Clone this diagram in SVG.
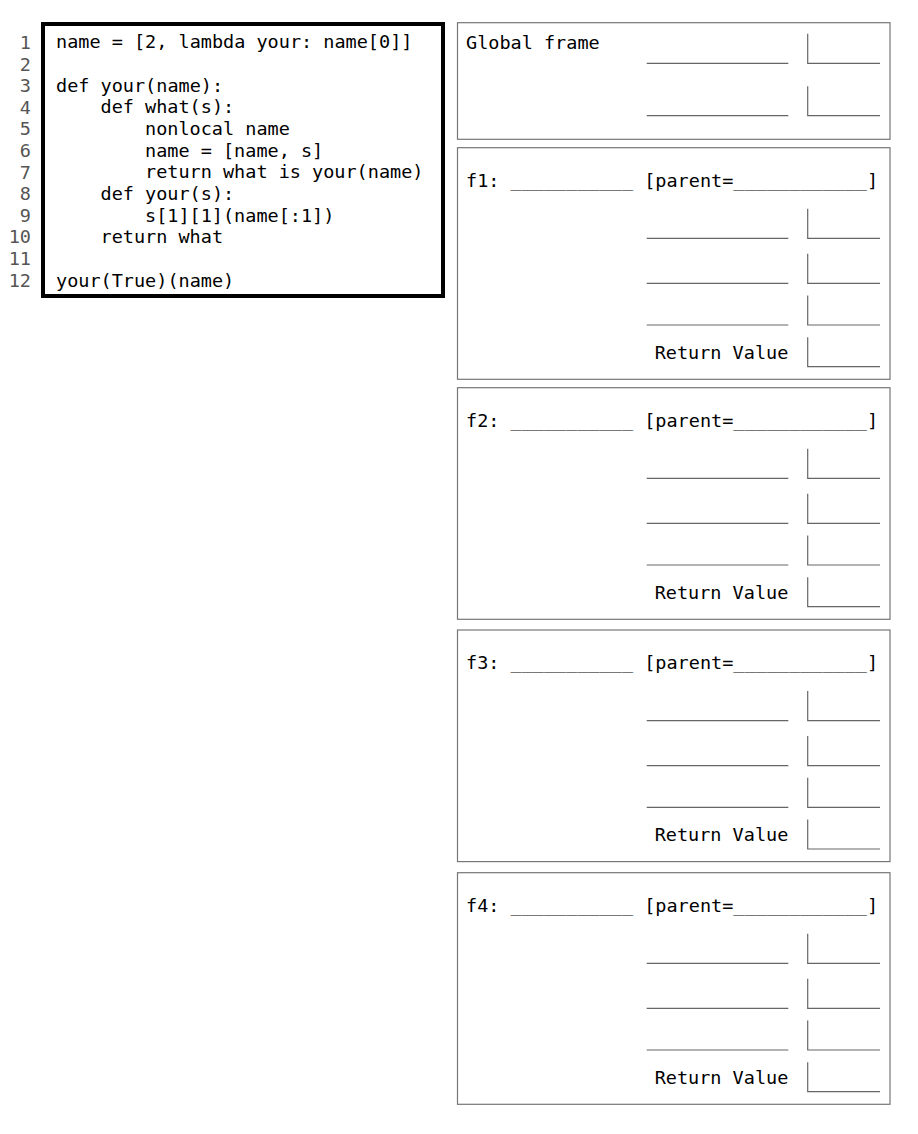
<svg xmlns="http://www.w3.org/2000/svg" width="918" height="1134" viewBox="0 0 918 1134">
<style>
  text { font-family: "DejaVu Sans Mono", "Liberation Mono", monospace; font-size: 18.5px; fill: #000; }
  .ln { fill: #555; text-anchor: end; }
  .frame { fill: #fff; stroke: #777; stroke-width: 1.2; }
  .slot { fill: none; stroke: #666; stroke-width: 1.2; }
  .rv { text-anchor: end; }
</style>
<rect width="918" height="1134" fill="#fff"/>
<defs>
  <g id="row"><line class="slot" x1="646.7" y1="0" x2="788.3" y2="0"/><polyline class="slot" points="807.7,-29.5 807.7,0 880,0"/></g>
  <g id="box"><polyline class="slot" points="807.7,-29.5 807.7,0 880,0"/></g>
</defs>
<g id="code">
  <rect x="43" y="24" width="400" height="272" fill="#fff" stroke="#000" stroke-width="4"/>
  <text class="ln" x="31" y="49">1</text>
  <text class="ln" x="31" y="70.6">2</text>
  <text class="ln" x="31" y="92.2">3</text>
  <text class="ln" x="31" y="113.8">4</text>
  <text class="ln" x="31" y="135.4">5</text>
  <text class="ln" x="31" y="157">6</text>
  <text class="ln" x="31" y="178.6">7</text>
  <text class="ln" x="31" y="200.2">8</text>
  <text class="ln" x="31" y="221.8">9</text>
  <text class="ln" x="31" y="243.4">10</text>
  <text class="ln" x="31" y="265">11</text>
  <text class="ln" x="31" y="286.6">12</text>
  <text x="56" y="47.5">name = [2, lambda your: name[0]]</text>
  <text x="56" y="91.7">def your(name):</text>
  <text x="100.5" y="113.4">def what(s):</text>
  <text x="145" y="135">nonlocal name</text>
  <text x="145" y="156.7">name = [name, s]</text>
  <text x="145" y="178.4">return what is your(name)</text>
  <text x="100.5" y="200">def your(s):</text>
  <text x="145" y="221.7">s[1][1](name[:1])</text>
  <text x="100.5" y="243.4">return what</text>
  <text x="56" y="286.7">your(True)(name)</text>
</g>
<g id="global">
  <rect class="frame" x="457.5" y="22.7" width="432.5" height="116.6"/>
  <text x="466" y="49.3">Global frame</text>
  <use href="#row" y="63.3"/>
  <use href="#row" y="115.7"/>
</g>
<g id="f1" transform="translate(0,147.7)">
  <rect class="frame" x="457.5" y="0" width="432.5" height="231.6"/>
  <text x="466" y="39">f1: ___________ [parent=____________]</text>
  <use href="#row" y="90.6"/>
  <use href="#row" y="135.6"/>
  <use href="#row" y="177.3"/>
  <text class="rv" x="788.3" y="211">Return Value</text>
  <use href="#box" y="219"/>
</g>
<g id="f2" transform="translate(0,387.7)">
  <rect class="frame" x="457.5" y="0" width="432.5" height="231.6"/>
  <text x="466" y="39">f2: ___________ [parent=____________]</text>
  <use href="#row" y="90.6"/>
  <use href="#row" y="135.6"/>
  <use href="#row" y="177.3"/>
  <text class="rv" x="788.3" y="211">Return Value</text>
  <use href="#box" y="219"/>
</g>
<g id="f3" transform="translate(0,630)">
  <rect class="frame" x="457.5" y="0" width="432.5" height="231.6"/>
  <text x="466" y="39">f3: ___________ [parent=____________]</text>
  <use href="#row" y="90.6"/>
  <use href="#row" y="135.6"/>
  <use href="#row" y="177.3"/>
  <text class="rv" x="788.3" y="211">Return Value</text>
  <use href="#box" y="219"/>
</g>
<g id="f4" transform="translate(0,872.7)">
  <rect class="frame" x="457.5" y="0" width="432.5" height="231.6"/>
  <text x="466" y="39">f4: ___________ [parent=____________]</text>
  <use href="#row" y="90.6"/>
  <use href="#row" y="135.6"/>
  <use href="#row" y="177.3"/>
  <text class="rv" x="788.3" y="211">Return Value</text>
  <use href="#box" y="219"/>
</g>
<g id="connectors"></g>
</svg>
